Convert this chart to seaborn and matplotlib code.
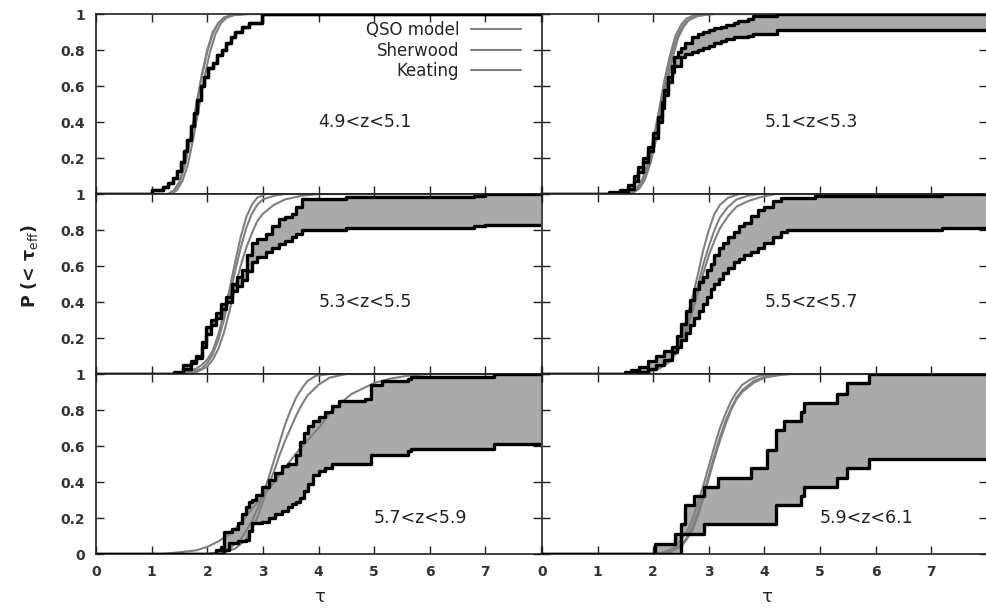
import matplotlib
matplotlib.use("Agg")
import numpy as np
import pandas as pd
import matplotlib.pyplot as plt
import seaborn as sns

# redshift bins, one panel each (row by row)
z_bins = ["4.9<z<5.1", "5.1<z<5.3", "5.3<z<5.5", "5.5<z<5.7", "5.7<z<5.9", "5.9<z<6.1"]
model_names = ["QSO model", "Sherwood", "Keating"]

# observed CDF bands: step positions (tau) with upper / lower P on a shared grid
tau_1 = [0, 1.0, 1.2, 1.3, 1.38, 1.45, 1.52, 1.58, 1.64, 1.70, 1.76, 1.82, 1.88, 1.95, 2.02,
         2.10, 2.18, 2.26, 2.34, 2.42, 2.50, 2.62, 2.75, 2.98, 8]
hi_1 = [0, 0.02, 0.04, 0.06, 0.09, 0.13, 0.18, 0.24, 0.30, 0.38, 0.45, 0.52, 0.60, 0.65, 0.70,
        0.73, 0.77, 0.80, 0.84, 0.87, 0.90, 0.93, 0.95, 1.0, 1.0]
lo_1 = hi_1

tau_2 = [0, 1.2, 1.4, 1.55, 1.65, 1.73, 1.82, 1.91, 2.0, 2.09, 2.15, 2.2, 2.27, 2.33, 2.38, 2.45,
         2.5, 2.57, 2.7, 2.8, 2.9, 3.0, 3.1, 3.22, 3.3, 3.45, 3.52, 3.7, 3.8, 4.23, 8]
hi_2 = [0, 0.01, 0.02, 0.05, 0.10, 0.15, 0.20, 0.26, 0.34, 0.43, 0.51, 0.58, 0.65, 0.71, 0.76, 0.79,
        0.81, 0.84, 0.87, 0.89, 0.90, 0.91, 0.92, 0.93, 0.94, 0.95, 0.96, 0.975, 0.99, 1.0, 1.0]
lo_2 = [0, 0, 0.01, 0.03, 0.07, 0.12, 0.18, 0.24, 0.31, 0.40, 0.48, 0.55, 0.62, 0.68, 0.71, 0.71,
        0.76, 0.78, 0.79, 0.80, 0.81, 0.82, 0.84, 0.85, 0.86, 0.87, 0.875, 0.88, 0.89, 0.91, 0.91]

tau_3 = [0, 1.4, 1.56, 1.7, 1.8, 1.9, 1.98, 2.06, 2.15, 2.24, 2.33, 2.45, 2.54, 2.63, 2.72, 2.81,
         2.9, 3.05, 3.17, 3.29, 3.4, 3.52, 3.6, 3.7, 4.5, 6.8, 7.0, 8]
hi_3 = [0, 0.01, 0.05, 0.07, 0.10, 0.18, 0.26, 0.30, 0.34, 0.39, 0.43, 0.50, 0.54, 0.58, 0.66, 0.73,
        0.75, 0.78, 0.82, 0.86, 0.87, 0.89, 0.93, 0.97, 0.985, 0.99, 1.0, 1.0]
lo_3 = [0, 0, 0.03, 0.06, 0.09, 0.15, 0.22, 0.27, 0.31, 0.36, 0.40, 0.46, 0.49, 0.52, 0.57, 0.62,
        0.65, 0.68, 0.70, 0.72, 0.74, 0.76, 0.78, 0.80, 0.81, 0.82, 0.83, 0.83]

tau_4 = [0, 1.49, 1.6, 1.75, 1.91, 2.05, 2.2, 2.33, 2.42, 2.5, 2.58, 2.66, 2.74, 2.82, 2.9, 2.97,
         3.04, 3.1, 3.18, 3.26, 3.34, 3.45, 3.55, 3.64, 3.75, 3.88, 4.0, 4.15, 4.29, 4.4, 4.9, 7.2, 8]
hi_4 = [0, 0.01, 0.02, 0.04, 0.07, 0.10, 0.13, 0.15, 0.21, 0.28, 0.35, 0.41, 0.47, 0.51, 0.54, 0.58,
        0.61, 0.66, 0.70, 0.73, 0.76, 0.79, 0.82, 0.84, 0.88, 0.91, 0.93, 0.96, 0.98, 0.98, 0.99, 1.0, 1.0]
lo_4 = [0, 0, 0.005, 0.01, 0.03, 0.05, 0.08, 0.12, 0.15, 0.19, 0.23, 0.27, 0.31, 0.35, 0.39, 0.43,
        0.47, 0.50, 0.53, 0.56, 0.59, 0.62, 0.64, 0.66, 0.68, 0.70, 0.73, 0.76, 0.79, 0.80, 0.80, 0.81, 0.81]

tau_5 = [0, 2.15, 2.25, 2.3, 2.39, 2.45, 2.55, 2.62, 2.69, 2.75, 2.81, 2.88, 2.99, 3.11, 3.22, 3.34,
         3.45, 3.52, 3.6, 3.66, 3.74, 3.82, 3.9, 4.0, 4.12, 4.25, 4.36, 4.83, 4.95, 5.15, 5.6, 5.67, 7.15, 8]
hi_5 = [0, 0.02, 0.04, 0.12, 0.12, 0.14, 0.17, 0.22, 0.26, 0.29, 0.30, 0.33, 0.37, 0.41, 0.45, 0.49,
        0.50, 0.50, 0.55, 0.62, 0.67, 0.71, 0.74, 0.76, 0.79, 0.82, 0.85, 0.86, 0.94, 0.96, 0.97, 0.985, 1.0, 1.0]
lo_5 = [0, 0, 0, 0.02, 0.06, 0.06, 0.07, 0.07, 0.08, 0.13, 0.17, 0.17, 0.18, 0.20, 0.22, 0.24,
        0.26, 0.28, 0.29, 0.31, 0.35, 0.39, 0.44, 0.46, 0.48, 0.50, 0.50, 0.50, 0.55, 0.55, 0.57, 0.585, 0.61, 0.61]

tau_6 = [0, 2.03, 2.39, 2.5, 2.57, 2.74, 2.92, 3.16, 3.76, 4.05, 4.2, 4.35, 4.65, 4.71, 5.3, 5.48, 5.87, 8]
hi_6 = [0, 0.055, 0.11, 0.165, 0.27, 0.32, 0.37, 0.42, 0.48, 0.58, 0.69, 0.74, 0.79, 0.84, 0.89, 0.95, 1.0, 1.0]
lo_6 = [0, 0, 0, 0.11, 0.11, 0.11, 0.165, 0.165, 0.165, 0.165, 0.27, 0.27, 0.32, 0.37, 0.42, 0.48, 0.53, 0.53]

# model CDFs as (tau, P) points
qso_1 = [(0, 0), (1.3, 0), (1.4, 0.02), (1.5, 0.07), (1.6, 0.17), (1.7, 0.32), (1.8, 0.49), (1.9, 0.66),
         (2.0, 0.80), (2.1, 0.90), (2.2, 0.95), (2.3, 0.98), (2.45, 0.995), (2.7, 1.0), (8, 1.0)]
sher_1 = [(0, 0), (1.35, 0), (1.45, 0.02), (1.55, 0.07), (1.65, 0.16), (1.75, 0.31), (1.85, 0.48), (1.95, 0.65),
          (2.05, 0.79), (2.15, 0.89), (2.25, 0.95), (2.35, 0.98), (2.5, 0.995), (2.75, 1.0), (8, 1.0)]
keat_1 = [(0, 0), (1.3, 0), (1.4, 0.02), (1.5, 0.06), (1.6, 0.16), (1.7, 0.31), (1.8, 0.48), (1.9, 0.65),
          (2.0, 0.79), (2.1, 0.89), (2.2, 0.95), (2.3, 0.98), (2.45, 0.995), (2.7, 1.0), (8, 1.0)]

qso_2 = [(0, 0), (1.5, 0), (1.6, 0.01), (1.7, 0.03), (1.8, 0.08), (1.9, 0.17), (2.0, 0.30), (2.1, 0.46),
         (2.2, 0.63), (2.3, 0.77), (2.4, 0.88), (2.5, 0.94), (2.6, 0.975), (2.75, 0.995), (3.0, 1.0), (8, 1.0)]
sher_2 = [(0, 0), (1.55, 0), (1.65, 0.01), (1.75, 0.03), (1.85, 0.08), (1.95, 0.17), (2.05, 0.30), (2.15, 0.46),
          (2.25, 0.62), (2.35, 0.76), (2.45, 0.87), (2.55, 0.93), (2.65, 0.97), (2.8, 0.99), (3.05, 1.0), (8, 1.0)]
keat_2 = [(0, 0), (1.5, 0), (1.6, 0.01), (1.7, 0.02), (1.8, 0.06), (1.9, 0.14), (2.0, 0.26), (2.1, 0.42),
          (2.2, 0.59), (2.3, 0.74), (2.4, 0.85), (2.5, 0.92), (2.6, 0.96), (2.8, 0.99), (3.1, 1.0), (8, 1.0)]

qso_3 = [(0, 0), (1.4, 0), (1.6, 0.01), (1.8, 0.03), (1.9, 0.05), (2.0, 0.08), (2.1, 0.13), (2.2, 0.22),
         (2.3, 0.34), (2.4, 0.47), (2.5, 0.62), (2.6, 0.76), (2.7, 0.87), (2.8, 0.94), (2.9, 0.98), (3.05, 1.0), (8, 1.0)]
sher_3 = [(0, 0), (1.5, 0), (1.7, 0.01), (1.9, 0.03), (2.0, 0.06), (2.1, 0.11), (2.2, 0.19), (2.3, 0.30),
          (2.4, 0.43), (2.5, 0.57), (2.6, 0.70), (2.7, 0.81), (2.8, 0.89), (2.9, 0.94), (3.0, 0.97), (3.2, 0.99),
          (3.4, 1.0), (8, 1.0)]
keat_3 = [(0, 0), (1.6, 0), (1.8, 0.01), (2.0, 0.04), (2.1, 0.08), (2.2, 0.14), (2.3, 0.23), (2.4, 0.35),
          (2.5, 0.48), (2.6, 0.60), (2.7, 0.70), (2.8, 0.78), (2.9, 0.85), (3.0, 0.89), (3.2, 0.94), (3.4, 0.97),
          (3.7, 0.99), (4.0, 1.0), (8, 1.0)]

qso_4 = [(0, 0), (1.6, 0), (1.8, 0.01), (2.0, 0.02), (2.2, 0.05), (2.35, 0.10), (2.5, 0.20), (2.6, 0.30),
         (2.7, 0.42), (2.8, 0.55), (2.9, 0.69), (3.0, 0.80), (3.1, 0.89), (3.2, 0.94), (3.35, 0.98), (3.55, 1.0), (8, 1.0)]
sher_4 = [(0, 0), (1.7, 0), (1.9, 0.01), (2.1, 0.03), (2.3, 0.07), (2.45, 0.14), (2.6, 0.26), (2.7, 0.37),
          (2.8, 0.49), (2.9, 0.61), (3.0, 0.71), (3.1, 0.80), (3.2, 0.87), (3.35, 0.93), (3.5, 0.97), (3.7, 0.99),
          (3.9, 1.0), (8, 1.0)]
keat_4 = [(0, 0), (1.7, 0), (1.9, 0.01), (2.1, 0.03), (2.3, 0.07), (2.45, 0.13), (2.6, 0.24), (2.7, 0.34),
          (2.8, 0.45), (2.9, 0.56), (3.0, 0.66), (3.1, 0.74), (3.2, 0.81), (3.35, 0.88), (3.5, 0.93), (3.7, 0.96),
          (3.9, 0.98), (4.2, 1.0), (8, 1.0)]

qso_5 = [(0, 0), (2.0, 0), (2.2, 0.01), (2.4, 0.03), (2.6, 0.08), (2.8, 0.18), (2.9, 0.25), (3.0, 0.33),
         (3.1, 0.42), (3.2, 0.52), (3.3, 0.62), (3.4, 0.72), (3.5, 0.80), (3.6, 0.87), (3.7, 0.92), (3.8, 0.96),
         (3.95, 0.99), (4.2, 1.0), (8, 1.0)]
sher_5 = [(0, 0), (2.1, 0), (2.3, 0.01), (2.5, 0.03), (2.7, 0.08), (2.9, 0.20), (3.0, 0.29), (3.1, 0.38),
          (3.2, 0.46), (3.3, 0.55), (3.4, 0.63), (3.5, 0.70), (3.6, 0.77), (3.7, 0.83), (3.8, 0.88), (4.0, 0.94),
          (4.2, 0.98), (4.5, 1.0), (8, 1.0)]
keat_5 = [(0, 0), (1.2, 0), (1.5, 0.01), (1.8, 0.02), (2.0, 0.04), (2.2, 0.07), (2.4, 0.11), (2.6, 0.17),
          (2.8, 0.25), (3.0, 0.32), (3.2, 0.40), (3.4, 0.48), (3.6, 0.56), (3.8, 0.63), (4.0, 0.70), (4.2, 0.78),
          (4.4, 0.84), (4.6, 0.89), (4.8, 0.92), (5.0, 0.95), (5.3, 0.975), (5.6, 0.99), (6.0, 1.0), (8, 1.0)]

qso_6 = [(0, 0), (2.0, 0), (2.2, 0.01), (2.4, 0.04), (2.6, 0.12), (2.7, 0.19), (2.8, 0.28), (2.9, 0.38),
         (3.0, 0.49), (3.1, 0.60), (3.2, 0.70), (3.3, 0.78), (3.4, 0.85), (3.5, 0.90), (3.6, 0.94), (3.75, 0.97),
         (3.9, 0.99), (4.1, 1.0), (8, 1.0)]
sher_6 = [(0, 0), (2.1, 0), (2.3, 0.01), (2.5, 0.05), (2.6, 0.09), (2.7, 0.15), (2.8, 0.23), (2.9, 0.33),
          (3.0, 0.44), (3.1, 0.55), (3.2, 0.65), (3.3, 0.74), (3.4, 0.81), (3.5, 0.87), (3.6, 0.91), (3.8, 0.96),
          (4.0, 0.985), (4.3, 1.0), (8, 1.0)]
keat_6 = [(0, 0), (2.1, 0), (2.3, 0.01), (2.5, 0.04), (2.6, 0.08), (2.7, 0.13), (2.8, 0.21), (2.9, 0.31),
          (3.0, 0.42), (3.1, 0.53), (3.2, 0.63), (3.3, 0.72), (3.4, 0.80), (3.5, 0.86), (3.6, 0.90), (3.8, 0.95),
          (4.0, 0.98), (4.3, 0.995), (4.5, 1.0), (8, 1.0)]

x_ticks = [0, 1, 2, 3, 4, 5, 6, 7, 8]
x_ticklabels = ["0", "1", "2", "3", "4", "5", "6", "7", ""]
y_ticks = [0, 0.2, 0.4, 0.6, 0.8, 1.0]
y_ticklabels = ["0", "0.2", "0.4", "0.6", "0.8", "1"]

bands = [(tau_1, hi_1, lo_1), (tau_2, hi_2, lo_2), (tau_3, hi_3, lo_3),
         (tau_4, hi_4, lo_4), (tau_5, hi_5, lo_5), (tau_6, hi_6, lo_6)]
models = [(qso_1, sher_1, keat_1), (qso_2, sher_2, keat_2), (qso_3, sher_3, keat_3),
          (qso_4, sher_4, keat_4), (qso_5, sher_5, keat_5), (qso_6, sher_6, keat_6)]

sns.set_theme(style="ticks")
plt.rcParams["font.family"] = ["DejaVu Sans"]
plt.rcParams["mathtext.fontset"] = "dejavusans"

fig = plt.figure(figsize=(9.87, 6.13), dpi=100)
W, H = 987.0, 613.0
col_left = [96, 542]
row_top = [14, 194, 374]
panel_w, panel_h = 445, 180

label_pos = [(4.0, 0.40), (4.0, 0.40), (4.0, 0.40), (4.0, 0.40), (5.0, 0.20), (5.0, 0.20)]
tick_col = "#333333"

for i in range(6):
    r, c = divmod(i, 2)
    ax = fig.add_axes([col_left[c] / W, 1 - (row_top[r] + panel_h) / H, panel_w / W, panel_h / H])
    tau, hi, lo = bands[i]
    ax.fill_between(tau, lo, hi, step="post", color="#aaaaaa", lw=0, zorder=1)
    for name, pts in zip(model_names, models[i]):
        df = pd.DataFrame(pts, columns=["tau", "P"])
        sns.lineplot(data=df, x="tau", y="P", ax=ax, color="#808080", lw=1.5,
                     estimator=None, sort=False, label=name if i == 0 else None, zorder=2)
    band = pd.DataFrame({"tau": tau, "hi": hi, "lo": lo})
    sns.lineplot(data=band, x="tau", y="lo", ax=ax, color="black", lw=2.4,
                 drawstyle="steps-post", estimator=None, sort=False, zorder=3)
    sns.lineplot(data=band, x="tau", y="hi", ax=ax, color="black", lw=2.4,
                 drawstyle="steps-post", estimator=None, sort=False, zorder=3)

    ax.set_xlim(0, 8)
    ax.set_ylim(0, 1)
    ax.set_xticks(x_ticks)
    ax.set_yticks(y_ticks)
    ax.set_xlabel("")
    ax.set_ylabel("")
    ax.tick_params(direction="in", top=True, right=True, length=6, width=1,
                   colors="#222222", labelcolor=tick_col, labelsize=10)
    if r == 2:
        ax.set_xticklabels(x_ticklabels, fontweight="bold")
        ax.tick_params(axis="x", pad=8)
    else:
        ax.set_xticklabels([])
    if c == 0:
        labs = y_ticklabels if r == 2 else [""] + y_ticklabels[1:]
        ax.set_yticklabels(labs, fontweight="bold")
        ax.tick_params(axis="y", pad=8)
    else:
        ax.set_yticklabels([])
    for sp in ax.spines.values():
        sp.set_linewidth(1.2)
        sp.set_color("#222222")
    if c == 0:
        # shared border with the right column: draw it once
        ax.spines["right"].set_visible(False)
    ax.set_facecolor("white")
    lx, ly = label_pos[i]
    ax.text(lx, ly, z_bins[i], ha="left", va="center", fontsize=12.5, color="#222222")

    if i == 0:
        ax.legend(loc="upper right", bbox_to_anchor=(0.955, 0.96), frameon=False,
                  markerfirst=False, fontsize=12, handlelength=3.0, handletextpad=0.7,
                  labelspacing=0.15, borderpad=0, borderaxespad=0)
    elif ax.get_legend() is not None:
        ax.get_legend().remove()

fig.text(0.03, 0.565, "P (< τ$_{\\rm eff}$)", rotation=90, ha="center", va="center",
         fontsize=12.5, fontweight="bold", color="#222222")
fig.text(0.324, 0.012, "τ", ha="center", va="bottom", fontsize=13, color="#222222")
fig.text(0.777, 0.012, "τ", ha="center", va="bottom", fontsize=13, color="#222222")

fig.savefig("out.png", dpi=100)
